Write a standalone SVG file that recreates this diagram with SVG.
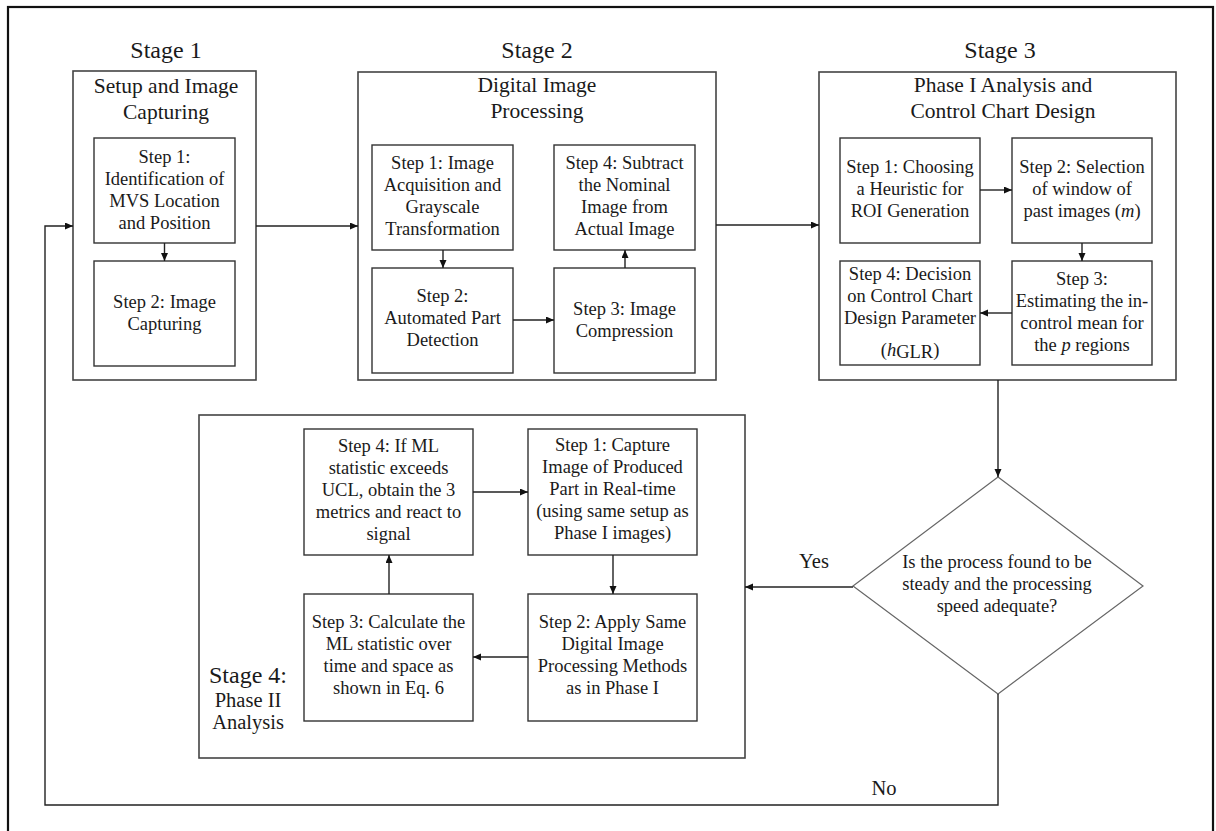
<svg xmlns="http://www.w3.org/2000/svg" width="1216" height="831" viewBox="0 0 1216 831">
<style>
text{font-family:"Liberation Serif","Times New Roman",serif;fill:#1a1a1a;text-anchor:middle}
.t{font-size:18.5px}
.h{font-size:21.5px}
.s{font-size:24px}
.box{fill:#fff;stroke:#333;stroke-width:1.4}
.stage{fill:#fff;stroke:#444;stroke-width:1.6}
.ln{fill:none;stroke:#222;stroke-width:1.4}
</style>
<defs>
<marker id="ah" markerUnits="userSpaceOnUse" markerWidth="9" markerHeight="8" refX="8" refY="3.5" orient="auto">
<path d="M0,0 L8,3.5 L0,7 z" fill="#111"/>
</marker>
</defs>
<rect x="8" y="7" width="1205" height="850" fill="#fff" stroke="#111" stroke-width="2.2"/>

<g id="stage1">
<text class="s" x="166" y="58">Stage 1</text>
<rect class="stage" x="73" y="71" width="183" height="309"/>
<text class="h" x="166" y="93">Setup and Image</text>
<text class="h" x="166" y="119">Capturing</text>
</g>
<g id="s1-step1">
<rect class="box" x="94" y="138" width="141" height="105"/>
<text class="t" x="164.5" y="163">Step 1:</text>
<text class="t" x="164.5" y="185">Identification of</text>
<text class="t" x="164.5" y="207">MVS Location</text>
<text class="t" x="164.5" y="229">and Position</text>
</g>
<g id="s1-step2">
<rect class="box" x="94" y="261" width="141" height="105"/>
<text class="t" x="164.5" y="308">Step 2: Image</text>
<text class="t" x="164.5" y="330">Capturing</text>
</g>

<g id="stage2">
<text class="s" x="537" y="58">Stage 2</text>
<rect class="stage" x="358" y="72" width="358" height="308"/>
<text class="h" x="537" y="92">Digital Image</text>
<text class="h" x="537" y="118">Processing</text>
</g>
<g id="s2-step1">
<rect class="box" x="372" y="145" width="141" height="105"/>
<text class="t" x="442.5" y="169">Step 1: Image</text>
<text class="t" x="442.5" y="191">Acquisition and</text>
<text class="t" x="442.5" y="213">Grayscale</text>
<text class="t" x="442.5" y="235">Transformation</text>
</g>
<g id="s2-step4">
<rect class="box" x="554" y="145" width="141" height="105"/>
<text class="t" x="624.5" y="169">Step 4: Subtract</text>
<text class="t" x="624.5" y="191">the Nominal</text>
<text class="t" x="624.5" y="213">Image from</text>
<text class="t" x="624.5" y="235">Actual Image</text>
</g>
<g id="s2-step2">
<rect class="box" x="372" y="268" width="141" height="105"/>
<text class="t" x="442.5" y="302">Step 2:</text>
<text class="t" x="442.5" y="324">Automated Part</text>
<text class="t" x="442.5" y="346">Detection</text>
</g>
<g id="s2-step3">
<rect class="box" x="554" y="268" width="141" height="105"/>
<text class="t" x="624.5" y="315">Step 3: Image</text>
<text class="t" x="624.5" y="337">Compression</text>
</g>

<g id="stage3">
<text class="s" x="1000" y="58">Stage 3</text>
<rect class="stage" x="819" y="72" width="357" height="308"/>
<text class="h" x="1003" y="92">Phase I Analysis and</text>
<text class="h" x="1003" y="118">Control Chart Design</text>
</g>
<g id="s3-step1">
<rect class="box" x="840" y="138" width="140" height="105"/>
<text class="t" x="910" y="173">Step 1: Choosing</text>
<text class="t" x="910" y="195">a Heuristic for</text>
<text class="t" x="910" y="217">ROI Generation</text>
</g>
<g id="s3-step2">
<rect class="box" x="1012" y="138" width="140" height="105"/>
<text class="t" x="1082" y="173">Step 2: Selection</text>
<text class="t" x="1082" y="195">of window of</text>
<text class="t" x="1082" y="217">past images (<tspan font-style="italic">m</tspan>)</text>
</g>
<g id="s3-step4">
<rect class="box" x="840" y="261" width="140" height="104"/>
<text class="t" x="910" y="280">Step 4: Decision</text>
<text class="t" x="910" y="302">on Control Chart</text>
<text class="t" x="910" y="324">Design Parameter</text>
<text class="t" x="910" y="356">(<tspan font-style="italic">h</tspan><tspan dy="2">GLR</tspan><tspan dy="-2">)</tspan></text>
</g>
<g id="s3-step3">
<rect class="box" x="1012" y="261" width="140" height="104"/>
<text class="t" x="1082" y="285">Step 3:</text>
<text class="t" x="1082" y="307">Estimating the in-</text>
<text class="t" x="1082" y="329">control mean for</text>
<text class="t" x="1082" y="351">the <tspan font-style="italic">p</tspan> regions</text>
</g>

<g id="stage4">
<rect class="stage" x="199" y="415" width="546" height="343"/>
<text class="s" x="248" y="683">Stage 4:</text>
<text x="248" y="707" style="font-size:20.5px">Phase II</text>
<text x="248" y="729" style="font-size:20.5px">Analysis</text>
</g>
<g id="s4-step4">
<rect class="box" x="304" y="429" width="169" height="126"/>
<text class="t" x="388.5" y="452">Step 4: If ML</text>
<text class="t" x="388.5" y="474">statistic exceeds</text>
<text class="t" x="388.5" y="496">UCL, obtain the 3</text>
<text class="t" x="388.5" y="518">metrics and react to</text>
<text class="t" x="388.5" y="540">signal</text>
</g>
<g id="s4-step1">
<rect class="box" x="528" y="429" width="169" height="126"/>
<text class="t" x="612.5" y="451">Step 1: Capture</text>
<text class="t" x="612.5" y="473">Image of Produced</text>
<text class="t" x="612.5" y="495">Part in Real-time</text>
<text class="t" x="612.5" y="517">(using same setup as</text>
<text class="t" x="612.5" y="539">Phase I images)</text>
</g>
<g id="s4-step3">
<rect class="box" x="304" y="594" width="169" height="127"/>
<text class="t" x="388.5" y="628">Step 3: Calculate the</text>
<text class="t" x="388.5" y="650">ML statistic over</text>
<text class="t" x="388.5" y="672">time and space as</text>
<text class="t" x="388.5" y="694">shown in Eq. 6</text>
</g>
<g id="s4-step2">
<rect class="box" x="528" y="594" width="169" height="127"/>
<text class="t" x="612.5" y="628">Step 2: Apply Same</text>
<text class="t" x="612.5" y="650">Digital Image</text>
<text class="t" x="612.5" y="672">Processing Methods</text>
<text class="t" x="612.5" y="694">as in Phase I</text>
</g>

<g id="decision">
<polygon points="998,477 1143,586 998,694 853,586" fill="#fff" stroke="#666" stroke-width="1.2"/>
<text class="t" x="997" y="568">Is the process found to be</text>
<text class="t" x="997" y="590">steady and the processing</text>
<text class="t" x="997" y="612">speed adequate?</text>
</g>

<g id="connectors">
<line class="ln" x1="164.5" y1="243" x2="164.5" y2="261" marker-end="url(#ah)"/>
<line class="ln" x1="256" y1="226" x2="358" y2="226" marker-end="url(#ah)"/>
<line class="ln" x1="443" y1="250" x2="443" y2="268" marker-end="url(#ah)"/>
<line class="ln" x1="513" y1="320" x2="554" y2="320" marker-end="url(#ah)"/>
<line class="ln" x1="625" y1="268" x2="625" y2="250" marker-end="url(#ah)"/>
<line class="ln" x1="716" y1="225" x2="819" y2="225" marker-end="url(#ah)"/>
<line class="ln" x1="980" y1="190" x2="1012" y2="190" marker-end="url(#ah)"/>
<line class="ln" x1="1082" y1="243" x2="1082" y2="261" marker-end="url(#ah)"/>
<line class="ln" x1="1012" y1="313" x2="980" y2="313" marker-end="url(#ah)"/>
<line class="ln" x1="998" y1="380" x2="998" y2="477" marker-end="url(#ah)"/>
<line class="ln" x1="853" y1="587" x2="745" y2="587" marker-end="url(#ah)"/>
<polyline class="ln" points="998,694 998,805 45,805 45,226 73,226" marker-end="url(#ah)"/>
<line class="ln" x1="473" y1="492" x2="528" y2="492" marker-end="url(#ah)"/>
<line class="ln" x1="613" y1="555" x2="613" y2="594" marker-end="url(#ah)"/>
<line class="ln" x1="528" y1="657" x2="473" y2="657" marker-end="url(#ah)"/>
<line class="ln" x1="389" y1="594" x2="389" y2="555" marker-end="url(#ah)"/>
<text x="814" y="568" style="font-size:20.5px">Yes</text>
<text x="884" y="795" style="font-size:20.5px">No</text>
</g>
</svg>
